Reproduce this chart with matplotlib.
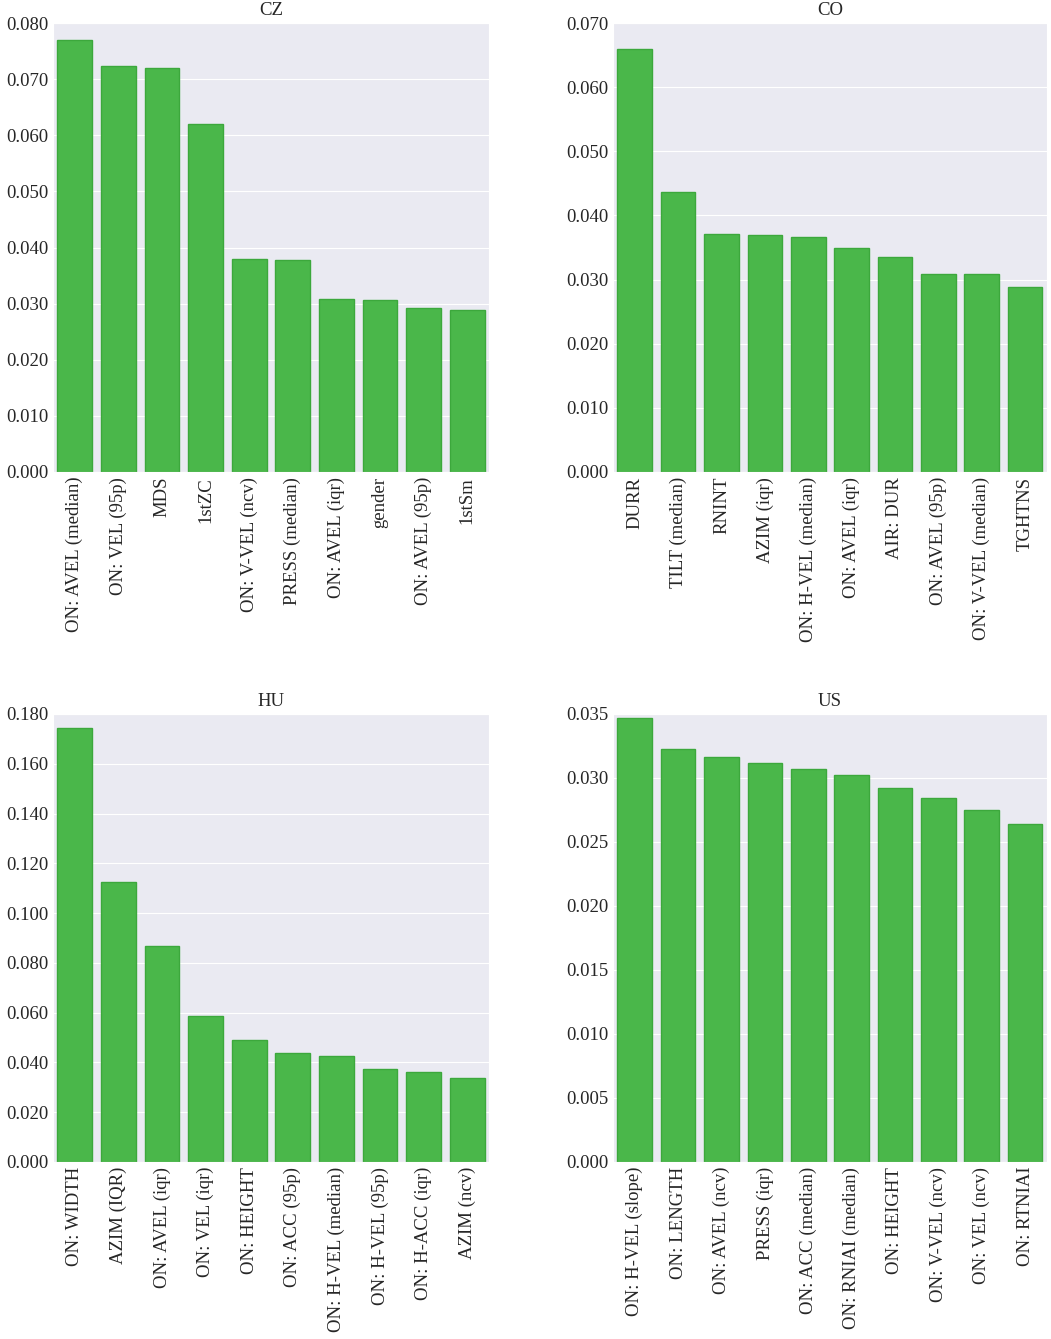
import numpy as np
import matplotlib
matplotlib.use("Agg")
import matplotlib.pyplot as plt
import seaborn as sns
from matplotlib.ticker import FormatStrFormatter

sns.set_style("darkgrid")
plt.rcParams['font.family'] = ['Liberation Serif', 'DejaVu Serif']

# feature importances per language
cz_labels = ['ON: AVEL (median)', 'ON: VEL (95p)', 'MDS', '1stZC', 'ON: V-VEL (ncv)',
             'PRESS (median)', 'ON: AVEL (iqr)', 'gender', 'ON: AVEL (95p)', '1stSm']
cz_vals = [0.0770, 0.0723, 0.0720, 0.0620, 0.0380, 0.0378, 0.0309, 0.0306, 0.0292, 0.0288]

co_labels = ['DURR', 'TILT (median)', 'RNINT', 'AZIM (iqr)', 'ON: H-VEL (median)',
             'ON: AVEL (iqr)', 'AIR: DUR', 'ON: AVEL (95p)', 'ON: V-VEL (median)', 'TGHTNS']
co_vals = [0.0659, 0.0437, 0.0371, 0.0369, 0.0367, 0.0350, 0.0335, 0.0308, 0.0308, 0.0288]

hu_labels = ['ON: WIDTH', 'AZIM (IQR)', 'ON: AVEL (iqr)', 'ON: VEL (iqr)', 'ON: HEIGHT',
             'ON: ACC (95p)', 'ON: H-VEL (median)', 'ON: H-VEL (95p)', 'ON: H-ACC (iqr)', 'AZIM (ncv)']
hu_vals = [0.1742, 0.1124, 0.0867, 0.0586, 0.0490, 0.0439, 0.0425, 0.0375, 0.0362, 0.0338]

us_labels = ['ON: H-VEL (slope)', 'ON: LENGTH', 'ON: AVEL (ncv)', 'PRESS (iqr)', 'ON: ACC (median)',
             'ON: RNIAI (median)', 'ON: HEIGHT', 'ON: V-VEL (ncv)', 'ON: VEL (ncv)', 'ON: RTNIAI']
us_vals = [0.0347, 0.0323, 0.0316, 0.0312, 0.0307, 0.0302, 0.0292, 0.0284, 0.0275, 0.0264]

panels = [
    ('CZ', cz_labels, cz_vals, 0.080, 0.010, '%.3f'),
    ('CO', co_labels, co_vals, 0.070, 0.010, '%.3f'),
    ('HU', hu_labels, hu_vals, 0.180, 0.020, '%.3f'),
    ('US', us_labels, us_vals, 0.035, 0.005, '%.3f'),
]

fig = plt.figure(figsize=(10.51, 13.39), dpi=100)
boxes = [
    [0.0504, 0.6475, 0.4149, 0.3353],
    [0.5833, 0.6475, 0.4127, 0.3353],
    [0.0504, 0.1322, 0.4149, 0.3346],
    [0.5833, 0.1322, 0.4127, 0.3346],
]

for box, (title, labels, vals, ymax, step, fmt) in zip(boxes, panels):
    ax = fig.add_axes(box)
    x = np.arange(len(vals))
    ax.bar(x, vals, width=0.8, color='#4ab74a', edgecolor='#3ca83c', linewidth=1)
    ax.set_xlim(-0.5, len(vals) - 0.5)
    ax.set_ylim(0, ymax)
    ax.set_yticks(np.arange(0, ymax + step / 2, step))
    ax.yaxis.set_major_formatter(FormatStrFormatter(fmt))
    ax.set_xticks(x)
    ax.set_xticklabels(labels, rotation=90)
    ax.tick_params(axis='both', labelsize=13.5, length=0)
    ax.grid(axis='x', visible=False)
    ax.set_title(title, fontsize=13.5, pad=6)

fig.savefig('out.png', dpi=100)
